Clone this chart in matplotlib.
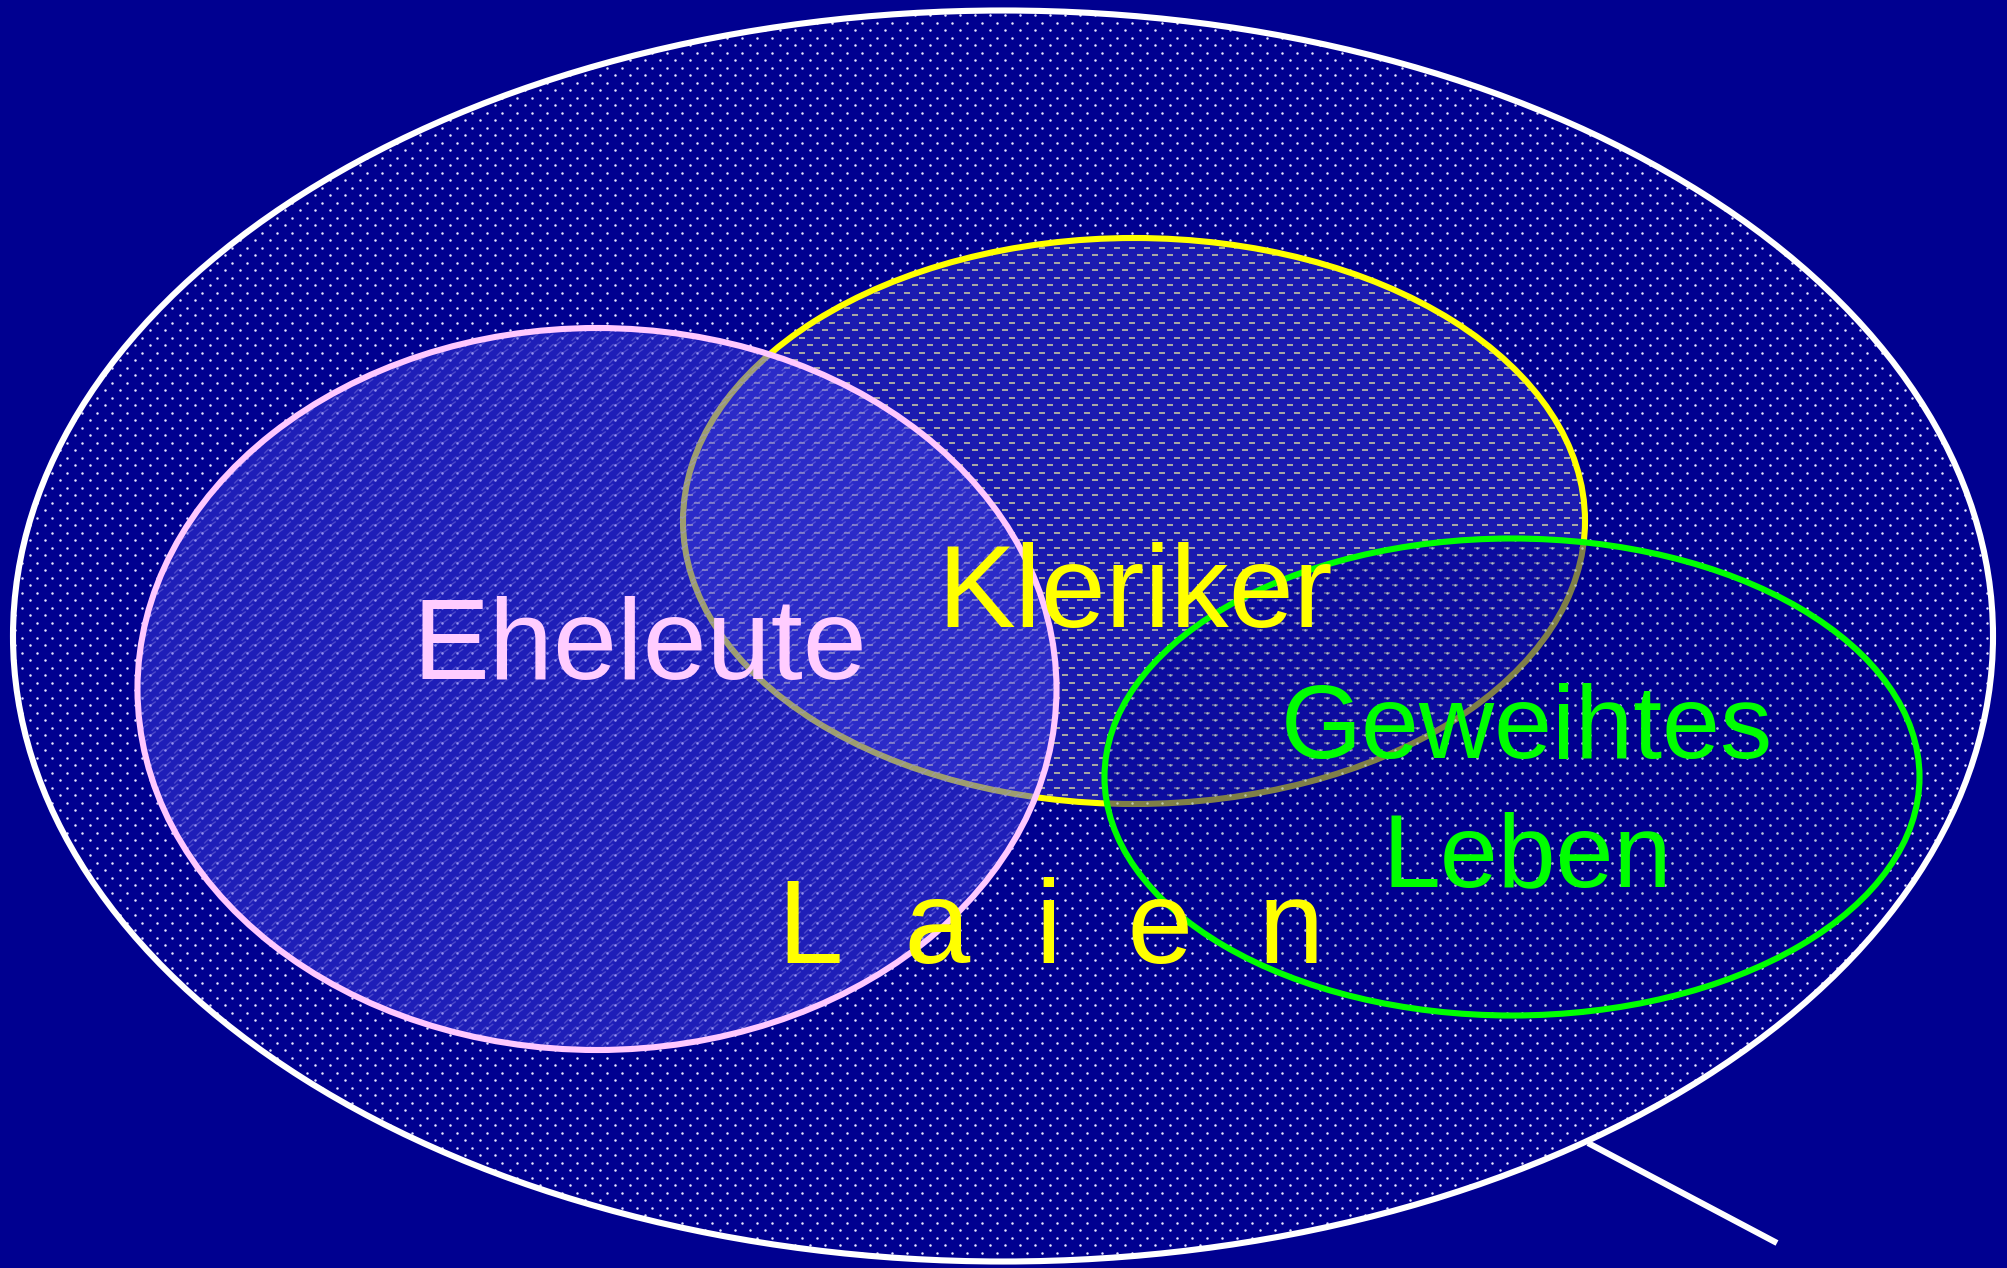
import numpy as np
import matplotlib
matplotlib.use("Agg")
import matplotlib.pyplot as plt
from matplotlib.patches import Ellipse
from matplotlib.path import Path

# ---- content ----
labels = ["Eheleute", "Kleriker", "Geweihtes", "Leben", "L  a  i  e  n"]
label_colors = ["#ffccff", "#ffff00", "#00ff00", "#00ff00", "#ffff00"]
label_x = [640, 1135, 1527, 1527, 1051]
label_y = [679, 627, 758, 886, 963]
label_sizes = [83, 84, 75, 75, 85]

# ellipses: (cx, cy, w, h)
outer = (1003, 636, 1980, 1251)
kleriker = (1134, 521, 902, 566)
eheleute = (597, 689, 919, 722)
geweiht = (1512, 777, 815, 477)
pointer_x = [1588, 1777]
pointer_y = [1143, 1243]

BG = "#000090"
W, H = 2008, 1268
fig = plt.figure(figsize=(W / 100, H / 100), dpi=100, facecolor=BG)
ax = fig.add_axes([0, 0, 1, 1])
ax.set_xlim(0, W)
ax.set_ylim(H, 0)
ax.axis("off")
ax.set_facecolor(BG)

# texture lattice (diamond lattice, 15 px columns, 7.5 px rows)
xs = np.arange(0, W + 15, 15.0)
ys = np.arange(0, H + 8, 7.5)
gx, gy = np.meshgrid(xs, ys)
gx = gx + np.where((np.round(gy / 7.5) % 2) == 1, 7.5, 0)
gx, gy = gx.ravel(), gy.ravel()

LW = 4.4

# outer ellipse
e_out = Ellipse(outer[:2], outer[2], outer[3], facecolor=BG, edgecolor="none", zorder=1)
ax.add_patch(e_out)
dots = ax.scatter(gx, gy, s=3.2, c="#e8e8ff", linewidths=0, marker="o", zorder=1.5)
dots.set_clip_path(e_out)
ax.add_patch(Ellipse(outer[:2], outer[2], outer[3], facecolor="none",
                     edgecolor="white", lw=LW, zorder=6))
ax.plot(pointer_x, pointer_y, color="white", lw=LW, solid_capstyle="butt", zorder=6)

# Kleriker ellipse
e_k = Ellipse(kleriker[:2], kleriker[2], kleriker[3], facecolor="#1a1ab0",
              edgecolor="#ffff00", lw=LW, zorder=2)
ax.add_patch(e_k)
dash = Path([(-1, -0.3), (1, -0.3), (1, 0.3), (-1, 0.3), (-1, -0.3)],
            [Path.MOVETO, Path.LINETO, Path.LINETO, Path.LINETO, Path.CLOSEPOLY])
dk = ax.scatter(gx, gy, s=20, c="#d8d8a0", alpha=0.75, linewidths=0, marker=dash, zorder=2.2)
e_k_clip = Ellipse(kleriker[:2], kleriker[2] - 6, kleriker[3] - 6, facecolor="none",
                   edgecolor="none")
ax.add_patch(e_k_clip)
dk.set_clip_path(e_k_clip)

# Eheleute ellipse (semi-transparent)
e_e = Ellipse(eheleute[:2], eheleute[2], eheleute[3], facecolor=(60 / 255, 60 / 255, 225 / 255, 0.5),
              edgecolor="none", zorder=3)
ax.add_patch(e_e)
squig = Path([(-1, -0.6), (-0.3, 0.1), (0.0, -0.1), (1, 0.6)],
             [Path.MOVETO, Path.LINETO, Path.LINETO, Path.LINETO])
sq = ax.scatter(gx, gy, s=70, facecolors="none", edgecolors="#a8a0ee", alpha=0.33,
                linewidths=1.0, marker=squig, zorder=3.2)
sq.set_clip_path(e_e)
ax.add_patch(Ellipse(eheleute[:2], eheleute[2], eheleute[3], facecolor="none",
                     edgecolor="#ffc8ff", lw=LW, zorder=3.5))

# Geweihtes Leben ellipse
e_g = Ellipse(geweiht[:2], geweiht[2], geweiht[3], facecolor=(0, 0, 144 / 255, 0.5),
              edgecolor="none", zorder=4)
ax.add_patch(e_g)
dg = ax.scatter(gx, gy, s=3.2, c="#e8ffe8", alpha=0.6, linewidths=0, marker="o", zorder=4.2)
dg.set_clip_path(e_g)
ax.add_patch(Ellipse(geweiht[:2], geweiht[2], geweiht[3], facecolor="none",
                     edgecolor="#00ff00", lw=LW, zorder=4.5))

for t, c, x, y, fs in zip(labels, label_colors, label_x, label_y, label_sizes):
    ax.text(x, y, t, color=c, fontsize=fs, ha="center", va="baseline",
            family=["Liberation Sans", "DejaVu Sans"], zorder=7)

fig.savefig("out.png", dpi=100, facecolor=BG)
